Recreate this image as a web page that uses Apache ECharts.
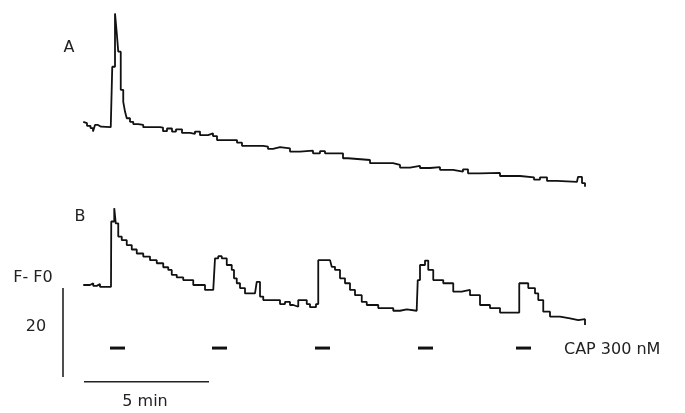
<!DOCTYPE html>
<html><head><meta charset="utf-8">
<script src="https://cdn.jsdelivr.net/npm/echarts@6/dist/echarts.min.js"></script>
<style>html,body{margin:0;padding:0;background:#fff}#c{width:685px;height:413px}</style>
</head><body><div id="c"></div>
<script>
// Trace A: time (min), F-F0
const timeA = [0.01,0.06,0.16,0.3,0.4,0.48,0.6,0.72,1.11,1.17,1.28,1.35,1.41,1.51,1.61,1.68,1.75,1.88,2.01,2.21,2.41,2.88,3.08,3.2,3.36,3.56,3.72,3.96,4.28,4.48,4.68,5.0,5.2,5.36,6.16,6.36,7.2,7.4,7.6,7.88,8.28,8.68,9.2,9.48,9.68,10.4,10.6,11.48,12.4,12.68,13.08,13.48,13.88,14.28,14.8,15.2,15.4,15.88,16.68,17.48,18.04,18.28,18.56,18.96,19.76,19.8,19.96,20.08];
const valueA = [0.8,0.5,-0.1,-0.6,-1.4,0.1,-0.3,-0.4,-0.4,13.2,25.2,20.8,16.6,8.0,5.3,3.1,1.6,0.8,0.3,0.1,-0.4,-0.4,-0.5,-1.3,-0.7,-1.4,-0.9,-1.7,-1.9,-1.4,-2.2,-1.8,-2.4,-3.3,-3.9,-4.6,-4.8,-5.3,-4.9,-5.2,-5.9,-5.7,-6.3,-5.8,-6.3,-7.4,-7.8,-8.5,-8.9,-9.5,-9.1,-9.6,-9.4,-10.0,-10.4,-9.9,-10.8,-10.7,-11.4,-11.7,-12.2,-11.7,-12.5,-12.7,-12.7,-11.6,-13.0,-13.8];
// Trace B: time (min), F-F0
const timeB = [0.01,0.28,0.41,0.55,0.68,1.12,1.13,1.25,1.31,1.41,1.55,1.75,1.95,2.15,2.41,2.68,2.95,3.21,3.41,3.55,3.75,4.01,4.41,4.88,5.21,5.28,5.41,5.55,5.75,5.95,6.04,6.15,6.28,6.48,6.88,6.95,7.08,7.21,7.75,7.88,8.08,8.28,8.41,8.61,8.95,9.08,9.32,9.41,9.88,9.95,10.08,10.28,10.48,10.68,10.88,11.15,11.35,11.81,12.41,12.68,12.95,13.35,13.39,13.48,13.68,13.81,14.01,14.41,14.81,15.15,15.48,15.88,16.28,16.68,17.35,17.45,17.61,17.81,18.08,18.21,18.41,18.68,19.08,19.48,19.81,20.08];
const valueB = [0.9,1.3,0.7,1.1,0.5,0.5,15.2,18.2,14.8,11.8,11.0,9.9,8.9,8.0,7.3,6.5,5.8,4.9,4.3,3.2,2.6,2.0,0.9,-0.2,-0.2,6.9,7.4,6.9,5.4,4.3,2.4,1.3,0.2,-1.0,-1.0,1.6,-1.7,-2.5,-2.5,-3.4,-2.9,-3.6,-4.0,-2.5,-3.4,-4.1,-3.4,6.5,6.5,5.0,4.3,2.4,1.3,-0.2,-1.4,-2.9,-3.6,-4.3,-4.9,-4.6,-4.9,-4.3,2.0,5.4,6.4,4.3,2.0,1.3,-0.6,-0.2,-1.4,-3.6,-4.3,-5.3,-5.3,1.3,1.3,0.2,-1.0,-2.5,-5.1,-6.2,-6.6,-7.0,-6.8,-8.1];
// CAP application periods (min)
const stimStart = [1.08,5.16,9.28,13.4,17.32];
const stimEnd = [1.68,5.76,9.88,14.0,17.92];
// Scale bars
const scaleTime = 5;   // min
const scaleAmp = 20;   // F-F0
const labels = {a:'A', b:'B', yUnit:'F- F0', amp:'20', time:'5 min', stim:'CAP 300 nM'};

const ink = '#111';
const pairs = (t, v) => t.map((x, i) => [x, v[i]]);
const STIM_LEVEL = -13.3;
const SB_X = -0.8, SB_Y0 = -19.8, HB_Y = -20.9, HB_X0 = 0.04;

const series = [
  {type:'line', xAxisIndex:0, yAxisIndex:0, data:pairs(timeA, valueA), step:'end', symbol:'none', clip:false,
   lineStyle:{color:ink, width:1.8}},
  {type:'line', xAxisIndex:1, yAxisIndex:1, data:pairs(timeB, valueB), step:'end', symbol:'none', clip:false,
   lineStyle:{color:ink, width:1.8}},
  {type:'line', xAxisIndex:1, yAxisIndex:1, data:[[SB_X, SB_Y0], [SB_X, SB_Y0 + scaleAmp]], symbol:'none', clip:false,
   lineStyle:{color:'#222', width:1.6}},
  {type:'line', xAxisIndex:1, yAxisIndex:1, data:[[HB_X0, HB_Y], [HB_X0 + scaleTime, HB_Y]], symbol:'none', clip:false,
   lineStyle:{color:'#222', width:1.6}}
];
stimStart.forEach((s, i) => {
  series.push({type:'line', xAxisIndex:1, yAxisIndex:1, data:[[s, STIM_LEVEL], [stimEnd[i], STIM_LEVEL]],
    symbol:'none', clip:false, lineStyle:{color:ink, width:3}});
});

const font = '"DejaVu Sans", sans-serif';
const txt = (text, x, y, align) => ({type:'text', x, y,
  style:{text, fill:'#222', font:'16px ' + font, textAlign:align || 'center', textVerticalAlign:'middle'}});

const chart = echarts.init(document.getElementById('c'));
chart.setOption({
  animation:false,
  backgroundColor:'#fff',
  grid:[{left:8, top:1, width:675, height:191}, {left:8, top:178, width:675, height:222}],
  xAxis:[{type:'value', gridIndex:0, min:-3, max:24, show:false},
         {type:'value', gridIndex:1, min:-3, max:24, show:false}],
  yAxis:[{type:'value', gridIndex:0, min:-15, max:28, show:false},
         {type:'value', gridIndex:1, min:-25, max:25, show:false}],
  series,
  graphic:[
    txt(labels.a, 69, 48),
    txt(labels.b, 80, 217),
    txt(labels.yUnit, 33, 278),
    txt(labels.amp, 36, 327),
    txt(labels.time, 145, 402),
    txt(labels.stim, 564, 350, 'left')
  ]
});
</script></body></html>
